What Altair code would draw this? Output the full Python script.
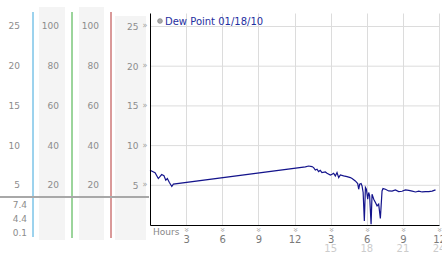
import altair as alt
import pandas as pd

FONT = "DejaVu Sans"

# Dew point series (hours since midnight, dew point value)
hours = [0.0, 0.42, 0.69, 0.97, 1.16, 1.31, 1.44, 1.61, 1.81, 1.94, 12.9, 13.17,
         13.45, 13.59, 13.73, 13.87, 14.0, 14.14, 14.28, 14.56, 14.7, 14.98, 15.12,
         15.25, 15.39, 15.53, 15.67, 15.81, 16.08, 16.36, 16.64, 16.78, 17.05, 17.25,
         17.33, 17.41, 17.53, 17.61, 17.7, 17.8, 17.89, 17.97, 18.08, 18.16, 18.24,
         18.36, 18.44, 18.58, 18.72, 18.86, 18.99, 19.13, 19.27, 19.35, 19.55, 19.82,
         20.1, 20.38, 20.65, 20.93, 21.21, 21.49, 21.77, 22.05, 22.32, 22.6, 22.88,
         23.15, 23.43, 23.71]
dewpoint = [6.9, 6.6, 5.85, 6.35, 6.2, 5.65, 5.85, 5.35, 4.85, 5.15, 7.33, 7.43,
            7.36, 7.23, 6.93, 7.02, 6.73, 6.89, 6.6, 6.68, 6.52, 6.3, 6.39,
            6.52, 6.18, 6.6, 5.97, 6.3, 6.18, 6.1, 5.97, 5.85, 5.55, 5.22,
            4.5, 5.13, 5.22, 4.92, 4.09, 0.5, 4.72, 4.5, 3.25, 4.09, 3.66,
            0.1, 3.87, 3.25, 2.83, 2.41, 2.62, 0.82, 4.29, 4.59, 4.5, 4.29,
            4.26, 4.42, 4.21, 4.25, 4.42, 4.35, 4.26, 4.16, 4.26, 4.16, 4.2,
            4.2, 4.26, 4.42]

# Axis / column labels
y_ticks = [25, 20, 15, 10, 5]
col1_labels = ["25", "20", "15", "10", "5"]
rh_labels = ["100", "80", "60", "40", "20"]
stats_labels = ["7.4", "4.4", "0.1"]
x_ticks = [3, 6, 9, 12, 15, 18, 21, 24]
x_second_row = [15, 18, 21, 24]
legend_text = "Dew Point 01/18/10"
hours_title = "Hours"

W, H = 289, 212
YMAX = 26.7

line_df = pd.DataFrame({"h": hours, "v": dewpoint})

# left-hand decorative columns (pixel positions relative to plot origin)
bands = pd.DataFrame({
    "x": [-111, -71, -35], "x2": [-85, -46, -4],
    "y": [-6, -6, 3], "y2": [227, 227, 227],
})
vlines = pd.DataFrame({
    "x": [-117, -78, -39], "y": [-1, -1, -1], "y2": [224, 225, 225],
    "c": ["#3aa6dc", "#38aa38", "#b53434"],
})

cols = []
for v, a, b in zip(y_ticks, col1_labels, rh_labels):
    cols.append({"v": v, "px": -130, "label": a})
    cols.append({"v": v, "px": -91, "label": b})
    cols.append({"v": v, "px": -51, "label": b})
cols_df = pd.DataFrame(cols)

stats_df = pd.DataFrame({"label": stats_labels, "py": [191.5, 206, 219.5]})
ytick_df = pd.DataFrame({"v": y_ticks})
xtick_df = pd.DataFrame({"h": x_ticks})
xrow2_df = pd.DataFrame({"h": x_second_row, "label": [str(t) for t in x_second_row]})

xscale = alt.Scale(domain=[0, 24], nice=False, zero=False)
yscale = alt.Scale(domain=[0, YMAX], nice=False)

xaxis = alt.Axis(
    values=x_ticks, title=None, grid=True, gridColor="#dcdcdc",
    domainColor="#000000", domainWidth=1, ticks=False,
    labelExpr="datum.value % 12 == 0 ? '12' : '' + (datum.value % 12)",
    labelFont=FONT, labelFontSize=10, labelColor="#7a7a7a",
    labelPadding=9, labelFlush=False, labelOverlap=False)
yaxis = alt.Axis(
    values=y_ticks, title=None, grid=False, zindex=1,
    domainColor="#000000", domainWidth=1, ticks=False,
    labelFont=FONT, labelFontSize=9, labelColor="#8c8c8c",
    labelPadding=12, labelFlush=False)

band_layer = alt.Chart(bands).mark_rect(color="#f4f4f4").encode(
    x=alt.X("x:Q", scale=None), x2="x2", y=alt.Y("y:Q", scale=None), y2="y2")

vline_layer = alt.Chart(vlines).mark_rule(strokeWidth=1).encode(
    x=alt.X("x:Q", scale=None), y=alt.Y("y:Q", scale=None), y2="y2",
    color=alt.Color("c:N", scale=None))

hline_layer = alt.Chart(pd.DataFrame({"a": [0]})).mark_rule(
    color="#a8a8a8", strokeWidth=2).encode(
    x=alt.value(-150), x2=alt.value(-1), y=alt.value(184))

ygrid_layer = alt.Chart(ytick_df).mark_rule(color="#dcdcdc", strokeWidth=1).encode(
    y=alt.Y("v:Q", scale=yscale, axis=yaxis))

line_layer = alt.Chart(line_df).mark_line(color="#14148c", strokeWidth=1.2).encode(
    x=alt.X("h:Q", scale=xscale, axis=xaxis),
    y=alt.Y("v:Q", scale=yscale, axis=yaxis),
)

cols_layer = alt.Chart(cols_df).mark_text(
    align="right", baseline="middle", font=FONT, fontSize=9, color="#8c8c8c").encode(
    x=alt.X("px:Q", scale=None), y=alt.Y("v:Q", scale=yscale, axis=yaxis),
    text="label:N")

stats_layer = alt.Chart(stats_df).mark_text(
    align="right", baseline="middle", font=FONT, fontSize=9, color="#8c8c8c").encode(
    x=alt.value(-123), y=alt.Y("py:Q", scale=None), text="label:N")

ymark_layer = alt.Chart(ytick_df).mark_text(
    text="»", font=FONT, fontSize=8, color="#a0a0a0", baseline="middle").encode(
    x=alt.value(-5), y=alt.Y("v:Q", scale=yscale, axis=yaxis))

xmark_layer = alt.Chart(xtick_df).mark_text(
    text="»", font=FONT, fontSize=8, color="#a0a0a0", baseline="middle", angle=90).encode(
    x=alt.X("h:Q", scale=xscale, axis=xaxis), y=alt.value(H + 5))

xrow2_layer = alt.Chart(xrow2_df).mark_text(
    font=FONT, fontSize=10, color="#cccccc", baseline="top").encode(
    x=alt.X("h:Q", scale=xscale, axis=xaxis), y=alt.value(H + 19), text="label:N")

hours_layer = alt.Chart(pd.DataFrame({"t": [hours_title]})).mark_text(
    align="left", baseline="middle", font=FONT, fontSize=9, color="#888888").encode(
    x=alt.value(3), y=alt.value(H + 6.5), text="t:N")

legend_dot = alt.Chart(pd.DataFrame({"a": [0]})).mark_point(
    filled=True, size=22, color="#aaaaaa", stroke="#888888", strokeWidth=0.8,
    opacity=1).encode(x=alt.value(10), y=alt.value(8))

legend_txt = alt.Chart(pd.DataFrame({"t": [legend_text]})).mark_text(
    align="left", baseline="middle", font=FONT, fontSize=10, color="#1f2f9f").encode(
    x=alt.value(15), y=alt.value(8.5), text="t:N")

chart = alt.layer(
    band_layer, vline_layer, hline_layer, ygrid_layer, line_layer, cols_layer,
    stats_layer, ymark_layer, xmark_layer, xrow2_layer, hours_layer, legend_dot,
    legend_txt
).properties(
    width=W, height=H,
    padding={"left": 150, "top": 13, "right": 3, "bottom": 28},
    autosize=alt.AutoSizeParams(type="none"),
    background="#ffffff",
).configure_view(stroke=None)

chart.save("out.html", embed_options={"renderer": "svg", "actions": False})
